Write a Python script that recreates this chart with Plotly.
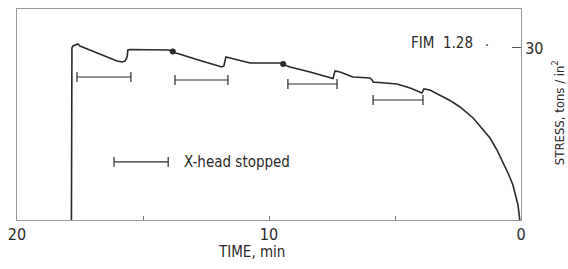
import plotly.graph_objects as go

# ---- data ----
time_min = [17.84, 17.82, 17.78, 17.58, 17.50, 17.10, 16.70, 16.30, 16.03, 15.83, 15.71, 15.63,
            15.60, 15.52, 14.00, 13.85, 13.69, 12.67, 11.87, 11.79, 11.71, 11.55, 10.75, 9.56,
            9.44, 9.17, 8.37, 7.58, 7.46, 7.38, 7.18, 6.67, 5.99, 5.91, 5.87, 4.92, 4.40,
            3.93, 3.85, 3.61, 3.21, 2.82, 2.42, 1.90, 1.63, 1.23, 0.95, 0.71, 0.48, 0.32,
            0.20, 0.12, 0.08, 0.05]
stress = [0.0, 30.0, 30.35, 30.7, 30.35, 29.65, 28.95, 28.26, 27.73, 27.56, 27.73, 28.43,
          29.65, 29.74, 29.65, 29.48, 29.13, 27.75, 26.69, 26.86, 28.43, 28.26, 27.38, 27.38,
          27.2, 26.69, 25.82, 24.77, 24.68, 25.99, 25.82, 24.94, 24.77, 24.42, 24.07, 23.72, 23.02,
          22.15, 22.85, 22.68, 21.8, 20.85, 19.71, 17.79, 16.4, 14.3, 12.2, 10.12, 7.85, 6.1,
          4.19, 2.62, 1.2, 0.0]

blob_time = [13.82, 9.44]
blob_stress = [29.4, 27.2]

stop_start = [17.62, 13.73, 9.25, 5.87]
stop_end = [15.48, 11.63, 7.30, 3.89]
stop_level = [24.94, 24.42, 23.72, 20.93]

legend_bar_start = 16.15
legend_bar_end = 14.0
legend_bar_level = 10.12

x_ticks = [20, 10, 0]
x_tick_text = ["20", "10", "0"]
x_minor_ticks = [15, 5]
y_ticks = [30]
y_tick_text = ["30"]

legend_label = "X-head stopped"
fig_label = "FIM  1.28"
x_title = "TIME, min"
y_title = "STRESS, tons / in<sup>2</sup>"

FONT = "Liberation Sans Narrow, DejaVu Sans Condensed, Liberation Sans, sans-serif"
INK = "#2a2a2a"

fig = go.Figure()

fig.add_trace(go.Scatter(x=time_min, y=stress, mode="lines",
                         line=dict(color=INK, width=1.6), hoverinfo="skip"))
fig.add_trace(go.Scatter(x=blob_time, y=blob_stress, mode="markers",
                         marker=dict(color=INK, size=6, symbol="circle"), hoverinfo="skip"))

for s, e, lv in zip(stop_start, stop_end, stop_level):
    fig.add_trace(go.Scatter(x=[s, e], y=[lv, lv], mode="lines+markers",
                             line=dict(color=INK, width=1.2),
                             marker=dict(symbol="line-ns-open", size=7,
                                         line=dict(color=INK, width=1.2)),
                             hoverinfo="skip"))

fig.add_trace(go.Scatter(x=[legend_bar_start, legend_bar_end],
                         y=[legend_bar_level, legend_bar_level], mode="lines+markers",
                         line=dict(color=INK, width=1.2),
                         marker=dict(symbol="line-ns-open", size=7,
                                     line=dict(color=INK, width=1.2)),
                         hoverinfo="skip"))

fig.add_annotation(x=legend_bar_end, y=legend_bar_level, xref="x", yref="y",
                   text=legend_label, showarrow=False, xanchor="left", xshift=14,
                   font=dict(family=FONT, size=15, color=INK))
fig.add_annotation(x=3.15, y=30.8, xref="x", yref="y", text=fig_label,
                   showarrow=False, xanchor="center",
                   font=dict(family=FONT, size=15, color=INK))
fig.add_annotation(x=1.35, y=30.6, xref="x", yref="y", text="·",
                   showarrow=False, xanchor="center",
                   font=dict(family=FONT, size=14, color=INK))
fig.add_annotation(x=0.465, y=-0.152, xref="paper", yref="paper", text=x_title,
                   showarrow=False, xanchor="center", yanchor="middle",
                   font=dict(family=FONT, size=15, color=INK))
fig.add_annotation(x=1.075, y=0.51, xref="paper", yref="paper", text=y_title,
                   showarrow=False, textangle=-90, xanchor="center", yanchor="middle",
                   font=dict(family=FONT, size=13, color=INK))

fig.update_xaxes(range=[20, 0], tickvals=x_ticks, ticktext=x_tick_text,
                 ticks="inside", ticklen=4, tickcolor="#777", tickwidth=1,
                 minor=dict(tickvals=x_minor_ticks, ticks="inside", ticklen=4,
                            tickcolor="#777", tickwidth=1, showgrid=False),
                 showline=True, linecolor="#999", linewidth=1, mirror=True,
                 showgrid=False, zeroline=False,
                 tickfont=dict(family=FONT, size=16, color=INK))
fig.update_yaxes(range=[0, 36.8], side="right", tickvals=y_ticks, ticktext=y_tick_text,
                 ticks="inside", ticklen=9, tickcolor="#555", tickwidth=1,
                 showline=True, linecolor="#999", linewidth=1, mirror=True,
                 showgrid=False, zeroline=False,
                 tickfont=dict(family=FONT, size=16, color=INK))

fig.update_layout(width=568, height=269, showlegend=False,
                  margin=dict(l=17, r=47, t=9, b=49),
                  plot_bgcolor="white", paper_bgcolor="white")

fig.write_html("out.html", config={"displayModeBar": False},
               post_script="document.body.style.margin='0';")
